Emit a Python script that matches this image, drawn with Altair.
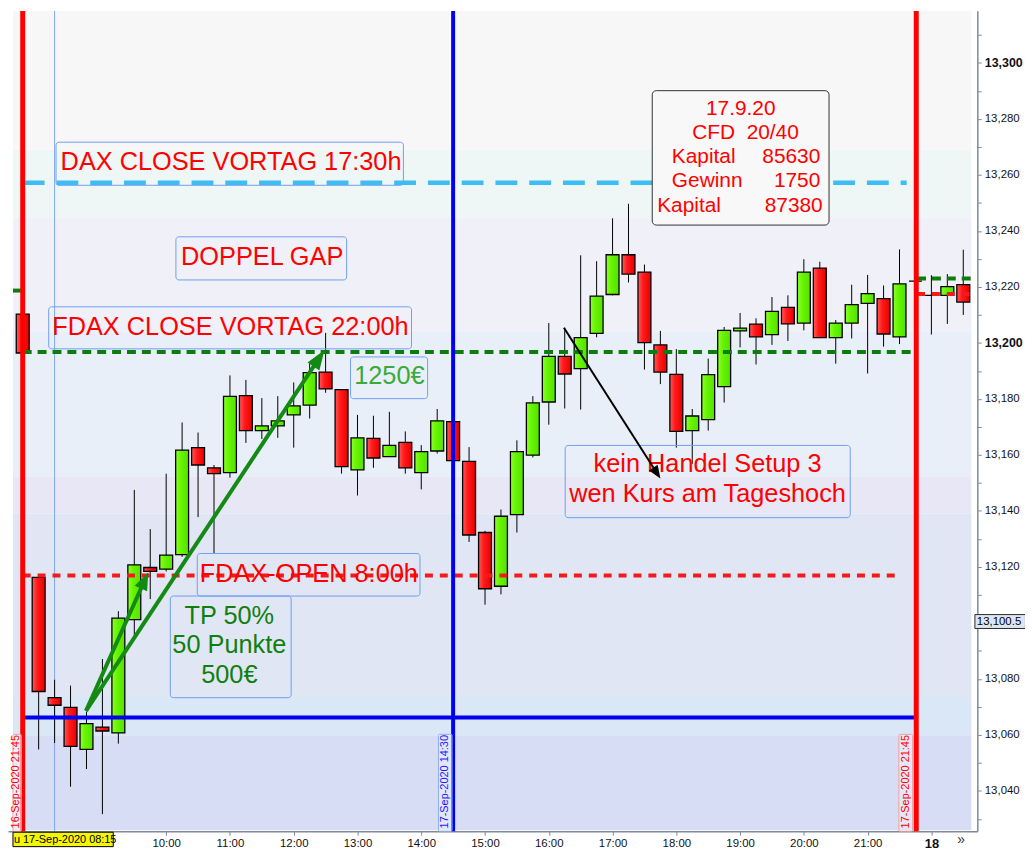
import math
import altair as alt
import pandas as pd

FONT = "Liberation Sans"

# ---------------- candle data (15-min FDAX) ----------------
# slot 0 = 16-Sep 21:45, slots 1..56 = 17-Sep 08:00..21:45, slots 57..59 = 18-Sep 08:00..08:30
opens = [13210.3, 13116.3, 13073.3, 13069.8, 13054.8, 13062.8, 13060.7, 13101.2, 13119.8, 13119.2,
         13124.4, 13162.6, 13155.4, 13153.7, 13181.2, 13168.7, 13170.4, 13174.3, 13177.8, 13189.6,
         13183.3, 13154.7, 13165.9, 13159.4, 13164.5, 13153.7, 13161.4, 13171.9, 13157.7, 13132.3,
         13113.1, 13138.7, 13159.9, 13178.9, 13195.2, 13190.8, 13203.4, 13217.3, 13231.5, 13225.3,
         13199.3, 13188.8, 13168.7, 13172.6, 13184.4, 13204.3, 13206.7, 13203.0, 13212.7, 13207.1,
         13226.7, 13201.9, 13207.1, 13214.1, 13215.8, 13202.2, 13222.1, 13217.0, 13217.0, 13220.8]
highs = [13210.5, 13117.0, 13079.7, 13077.6, 13068.3, 13087.1, 13104.2, 13147.5, 13133.5, 13153.3,
         13171.6, 13168.0, 13156.4, 13188.4, 13186.8, 13180.3, 13181.0, 13185.9, 13192.9, 13203.6,
         13183.3, 13174.3, 13174.0, 13175.4, 13168.4, 13163.5, 13176.4, 13172.0, 13162.8, 13132.9,
         13140.5, 13165.2, 13181.0, 13207.1, 13205.4, 13231.3, 13229.2, 13244.5, 13249.7, 13228.0,
         13204.3, 13197.8, 13176.4, 13194.4, 13205.7, 13210.7, 13208.8, 13216.4, 13217.0, 13229.9,
         13229.0, 13208.2, 13220.8, 13224.3, 13220.5, 13233.4, 13222.1, 13224.2, 13224.6, 13233.3]
lows = [13196.4, 13054.8, 13057.1, 13041.5, 13047.8, 13031.7, 13056.9, 13095.1, 13108.5, 13118.4,
        13123.6, 13137.8, 13124.8, 13151.9, 13164.3, 13165.7, 13166.1, 13162.6, 13173.0, 13182.2,
        13153.3, 13145.5, 13155.4, 13159.4, 13153.3, 13147.7, 13160.5, 13158.0, 13128.9, 13106.5,
        13110.2, 13132.3, 13159.1, 13170.8, 13176.6, 13176.2, 13202.0, 13217.0, 13221.6, 13190.5,
        13185.3, 13162.6, 13156.8, 13168.7, 13178.7, 13198.4, 13192.3, 13199.3, 13200.7, 13204.5,
        13201.9, 13192.6, 13201.6, 13189.1, 13198.7, 13199.6, 13222.1, 13203.0, 13206.8, 13210.0]
closes = [13196.4, 13075.5, 13070.6, 13055.9, 13064.0, 13061.4, 13101.7, 13120.7, 13118.4, 13124.2,
          13161.7, 13156.4, 13153.3, 13180.9, 13168.7, 13170.4, 13172.2, 13177.5, 13189.4, 13183.6,
          13155.8, 13166.1, 13158.9, 13163.4, 13155.4, 13161.2, 13172.2, 13158.0, 13131.4, 13112.2,
          13138.1, 13161.2, 13178.6, 13195.2, 13188.9, 13201.9, 13216.7, 13231.5, 13224.6, 13200.1,
          13189.6, 13168.4, 13173.9, 13188.7, 13204.5, 13205.3, 13202.2, 13211.3, 13206.8, 13225.3,
          13201.9, 13207.1, 13213.7, 13217.6, 13203.2, 13221.1, 13222.1, 13217.0, 13220.1, 13214.6]
slots = list(range(len(opens)))

# x-axis tick slots and their labels (08:00 / 09:00 are hidden under the crosshair label)
tick_slots = [1, 5, 9, 13, 17, 21, 25, 29, 33, 37, 41, 45, 49, 53, 57]
tick_labels = ["", "", "10:00", "11:00", "12:00", "13:00", "14:00", "15:00",
               "16:00", "17:00", "18:00", "19:00", "20:00", "21:00", "18"]

# background price bands
band_lo = [13269.0, 13244.9, 13204.1, 13152.4, 13139.1, 13073.5, 13059.9, 13025.6]
band_hi = [13318.6, 13269.0, 13244.9, 13204.1, 13152.4, 13139.1, 13073.5, 13059.9]
band_col = ["#f7f7f8", "#eff6f6", "#f0f0f8", "#e9eff8", "#e8e7f5", "#e1e6f5", "#d9e7f6", "#d7ddf5"]

# levels
dax_close = 13257.2
fdax_close = 13196.8
fdax_open = 13116.9
blue_level = 13066.2
new_green = 13223.0
new_red = 13217.5
prev_green = 13218.7
cross_price = 13100.5

# ---------------- scales ----------------
xdom = [-0.611, 59.57]
ydom = [13025.6, 13318.6]
W, H = 976, 826
px_x = W / (xdom[1] - xdom[0])
px_y = H / (ydom[1] - ydom[0])
xs = alt.Scale(domain=xdom, nice=False, zero=False)
ys = alt.Scale(domain=ydom, nice=False, zero=False)

label_map = "{" + ",".join(f"'{s}':'{l}'" for s, l in zip(tick_slots, tick_labels)) + "}"
x_axis = alt.Axis(
    values=tick_slots, labelExpr=f"{label_map}[''+datum.value]", title=None, grid=False,
    orient="bottom", tickSize=4, tickColor="#7f8a94", domainColor="#7f8a94", domainWidth=1.5,
    labelFont=FONT, labelColor="#111111", labelPadding=2, labelFlush=False, labelOverlap=False,
    labelFontSize={"condition": {"test": "datum.value == 57", "value": 13}, "value": 11.5},
    labelFontWeight={"condition": {"test": "datum.value == 57", "value": "bold"}, "value": "normal"},
)
y_axis = alt.Axis(
    values=list(range(13030, 13320, 10)), orient="right", title=None, grid=False,
    labelExpr="datum.value % 20 == 0 && datum.value != 13100 ? format(datum.value, ',') : ''",
    tickSize=4, tickColor="#7f8a94", domainColor="#7f8a94", domainWidth=1.5,
    labelFont=FONT, labelColor="#111111", labelPadding=3, labelOverlap=False,
    labelFontSize={"condition": {"test": "datum.value % 100 == 0", "value": 12.5}, "value": 11.5},
    labelFontWeight={"condition": {"test": "datum.value % 100 == 0", "value": "bold"}, "value": "normal"},
)


def X(f):
    return alt.X(f, type="quantitative", scale=xs, axis=x_axis)


def Y(f):
    return alt.Y(f, type="quantitative", scale=ys, axis=y_axis)


layers = []

# background bands (stop just short of the axis lines)
bands_df = pd.DataFrame({"x0": xdom[0], "x1": xdom[1] - 1.0 / px_x,
                         "lo": [v if v > ydom[0] else ydom[0] + 1.0 / px_y for v in band_lo],
                         "hi": band_hi, "col": band_col})
layers.append(
    alt.Chart(bands_df).mark_rect().encode(
        x=X("x0"), x2="x1", y=Y("lo"), y2="hi", color=alt.Color("col:N", scale=None))
)

# crosshair thin vertical line at 08:15
layers.append(
    alt.Chart(pd.DataFrame({"s": [2], "a": [ydom[0]], "b": [ydom[1]]}))
    .mark_rule(color="#7fa6f0", strokeWidth=1)
    .encode(x=X("s"), y=Y("a"), y2="b")
)

# candles
cdf = pd.DataFrame({"slot": slots, "open": opens, "high": highs, "low": lows, "close": closes})
up = cdf[cdf["close"] >= cdf["open"]]
dn = cdf[cdf["close"] < cdf["open"]]
green = alt.LinearGradient(gradient="linear", x1=0, x2=1, y1=0, y2=0, stops=[
    alt.GradientStop(color="#8cff2e", offset=0), alt.GradientStop(color="#66f500", offset=0.4),
    alt.GradientStop(color="#55e000", offset=1)])
red = alt.LinearGradient(gradient="linear", x1=0, x2=1, y1=0, y2=0, stops=[
    alt.GradientStop(color="#ff5a5a", offset=0), alt.GradientStop(color="#ff1a1a", offset=0.4),
    alt.GradientStop(color="#e80000", offset=1)])
layers.append(alt.Chart(cdf).mark_rule(color="black", strokeWidth=1).encode(x=X("slot"), y=Y("low"), y2="high"))
layers.append(alt.Chart(up).mark_bar(size=13, fill=green, stroke="black", strokeWidth=1.3)
              .encode(x=X("slot"), y=Y("open"), y2="close"))
layers.append(alt.Chart(dn).mark_bar(size=13, fill=red, stroke="black", strokeWidth=1.3)
              .encode(x=X("slot"), y=Y("open"), y2="close"))


def hline(y, x0, x1, color, width, dash=None):
    kw = dict(color=color, strokeWidth=width)
    if dash:
        kw["strokeDash"] = dash
    return alt.Chart(pd.DataFrame({"x0": [x0], "x1": [x1], "y": [y]})).mark_rule(**kw).encode(
        x=X("x0"), x2="x1", y=Y("y"))


def vline(s, color, width):
    return alt.Chart(pd.DataFrame({"s": [s], "a": [ydom[0]], "b": [ydom[1]]})).mark_rule(
        color=color, strokeWidth=width).encode(x=X("s"), y=Y("a"), y2="b")


layers += [
    hline(dax_close, 0.0, 55.45, "#3dbdf2", 4.5, [22, 12]),
    hline(fdax_close, 0.0, 56.0, "#0b7d0b", 4, [9, 6]),
    hline(fdax_open, 0.0, 55.1, "#f21a1a", 4, [8, 7]),
    hline(blue_level, 0.0, 56.0, "#0000ee", 4),
    hline(new_green, 56.1, xdom[1] - 1.0 / px_x, "#0b7d0b", 4, [9, 6]),
    hline(new_red, 56.1, xdom[1] - 1.0 / px_x, "#f21a1a", 4, [8, 7]),
    hline(prev_green, xdom[0], -0.1, "#0b7d0b", 4),
    vline(27, "#0000ee", 4),
    vline(0, "#ff0000", 5),
    vline(56.05, "#ff0000", 5),
]


def box(x0, x1, top, bot, stroke, fill=None, fill_opacity=0.0, radius=3, width=1.0):
    kw = dict(stroke=stroke, strokeWidth=width, cornerRadius=radius)
    if fill:
        kw["fill"] = fill
        kw["fillOpacity"] = fill_opacity
    else:
        kw["fillOpacity"] = 0
        kw["fill"] = "#ffffff"
    return alt.Chart(pd.DataFrame({"x0": [x0], "x1": [x1], "t": [top], "b": [bot]})).mark_rect(**kw).encode(
        x=X("x0"), x2="x1", y=Y("t"), y2="b")


def text(items, color, size, align="center", angle=0, weight="normal"):
    df = pd.DataFrame(items, columns=["s", "p", "t"])
    return alt.Chart(df).mark_text(color=color, fontSize=size, font=FONT, align=align, baseline="middle",
                                   angle=angle, fontWeight=weight).encode(x=X("s"), y=Y("p"), text="t:N")


BOX = "#6f9ff0"
layers += [
    box(2.09, 23.88, 13271.7, 13256.3, BOX),
    box(9.61, 20.32, 13237.9, 13222.5, BOX),
    box(1.63, 24.39, 13212.9, 13197.9, BOX),
    box(20.56, 25.40, 13195.0, 13180.1, BOX),
    box(10.95, 24.92, 13124.8, 13109.6, BOX),
    box(9.26, 16.84, 13109.6, 13073.3, BOX),
    box(34.03, 51.91, 13163.4, 13137.6, BOX),
    box(39.49, 50.58, 13290.1, 13242.1, "#333333", "#f8f8f8", 1.0, 4),
    # vertical date labels
    box(xdom[0], -0.09, 13060.2, ydom[0], "#f2a0a0", "#ffffff", 0.5, 1),
    box(26.08, 26.93, 13060.2, ydom[0], "#8fb0f0", "#ffffff", 0.3, 1),
    box(54.96, 55.82, 13060.2, ydom[0], "#f2a0a0", "#ffffff", 0.3, 1),
]

layers += [
    text([(13.07, 13264.6, "DAX CLOSE VORTAG 17:30h"),
          (15.02, 13230.6, "DOPPEL GAP"),
          (13.03, 13205.7, "FDAX CLOSE VORTAG 22:00h"),
          (17.95, 13117.5, "FDAX-OPEN 8:00h"),
          (42.96, 13156.6, "kein Handel Setup 3"),
          (42.96, 13146.1, "wen Kurs am Tageshoch")], "#ff0000", 25.5),
    text([(23.0, 13188.0, "1250€")], "#3aaa3a", 25.5),
    text([(12.96, 13102.5, "TP 50%"),
          (12.96, 13092.0, "50 Punkte"),
          (12.96, 13081.5, "500€")], "#0f7f0f", 25.5),
    text([(45.04, 13283.65, "17.9.20"),
          (45.34, 13275.1, "CFD\u00a0 20/40")], "#ff0000", 21),
    text([(40.72, 13266.4, "Kapital"),
          (40.72, 13257.7, "Gewinn"),
          (39.80, 13248.9, "Kapital")], "#ff0000", 21, align="left"),
    text([(50.03, 13266.4, "85630"),
          (50.03, 13257.7, "1750"),
          (50.18, 13248.9, "87380")], "#ff0000", 21, align="right"),
    text([(-0.40, 13026.6, "16-Sep-2020 21:45"),
          (55.39, 13026.6, "17-Sep-2020 21:45")], "#ff0000", 11, align="left", angle=270),
    text([(26.50, 13026.6, "17-Sep-2020 14:30")], "#1a1aff", 11, align="left", angle=270),
]

# arrows: (x0, y0, x1, y1, color, shaft width, head length px, head half-width)
arrows = [
    (3.97, 13068.6, 18.93, 13197.5, "#138a13", 4, 20, 0.36),
    (3.97, 13068.6, 7.88, 13118.1, "#138a13", 4, 18, 0.38),
    (33.95, 13205.45, 40.0, 13151.6, "#000000", 2, 13, 0.40),
]
for x0, y0, x1, y1, col, sw, hl, hw in arrows:
    dxp = (x1 - x0) * px_x
    dyp = (y1 - y0) * px_y
    length = math.hypot(dxp, dyp)
    f = 1 - 0.6 * hl / length
    xe, ye = x0 + (x1 - x0) * f, y0 + (y1 - y0) * f
    ang = math.degrees(math.atan2(dxp, dyp)) % 360
    layers.append(alt.Chart(pd.DataFrame({"a": [x0], "b": [xe], "c": [y0], "d": [ye]}))
                  .mark_rule(color=col, strokeWidth=sw).encode(x=X("a"), x2="b", y=Y("c"), y2="d"))
    layers.append(alt.Chart(pd.DataFrame({"a": [x1], "c": [y1]}))
                  .mark_point(shape=f"M0,0L{-hw},1L{hw},1Z", filled=True, opacity=1, color=col,
                              size=4 * hl * hl, angle=ang, strokeWidth=0)
                  .encode(x=X("a"), y=Y("c")))

# crosshair labels outside the plot
layers += [
    box(xdom[0], 5.68, ydom[0] - 1.0 / px_y, ydom[0] - 15.5 / px_y, "#000000", "#f5f50a", 1.0, 0),
    text([(-0.55, ydom[0] - 8.5 / px_y, "u 17-Sep-2020 08:15")], "#000000", 11, align="left"),
    box(59.73, 62.9, cross_price + 7 / px_y, cross_price - 7 / px_y, "#2b2b2b", "#dce6f2", 1.0, 0),
    text([(59.85, cross_price, "13,100.5")], "#000000", 11.5, align="left"),
    text([(58.87, ydom[0] - 8.5 / px_y, "»")], "#333333", 14),
]

chart = alt.layer(*layers).properties(
    width=W, height=H,
    autosize=alt.AutoSizeParams(type="none"),
    padding={"left": 0, "top": 0, "right": 48, "bottom": 16},
    background="#ffffff",
).configure_view(strokeWidth=0)

chart.save("out.html", embed_options={"renderer": "svg", "actions": False})
